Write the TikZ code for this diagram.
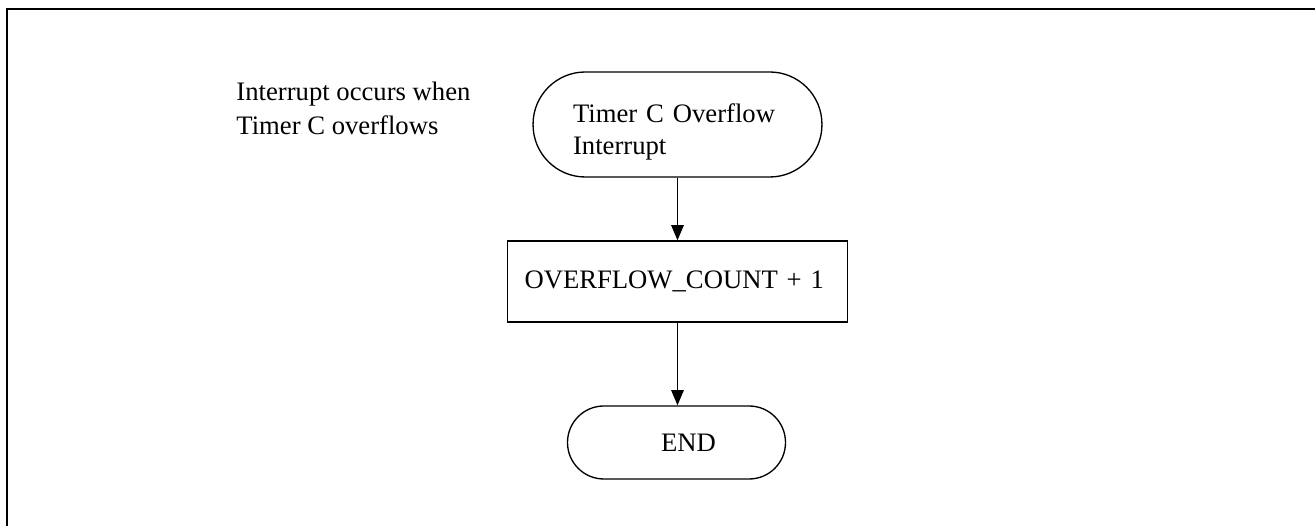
\documentclass[tikz,border=0pt]{standalone}
\usepackage{fontspec}
\setmainfont{Liberation Serif}
\usetikzlibrary{arrows.meta}
\begin{document}
\begin{tikzpicture}[x=0.45pt,y=-0.45pt,
  every node/.style={font=\fontsize{12}{14}\selectfont, inner sep=0pt},
  terminal/.style={draw, line width=0.6pt, rectangle},
  process/.style={draw, line width=0.6pt, rectangle},
  flow/.style={line width=0.6pt, -{Triangle[length=6.8pt,width=5.6pt]}},
  frame/.style={line width=1.1pt},
  note/.style={font=\fontsize{12}{15.3}\selectfont, align=left}
]
\useasboundingbox (0,0) rectangle (1315,526);
% page frame (top and left edges)
\draw[frame] (7,526) -- (7,9) -- (1315,9);

% annotation (base anchor sits on the last line)
\node[note, anchor=base west] (note) at (236,135) {Interrupt occurs when\\Timer C overflows};

% flowchart
\node[terminal, rounded corners=23.5pt, minimum width=130pt, minimum height=47.25pt,
      text width=94pt, align=left] (start) at (677.5,124.5)
      {\rule{0pt}{15.2pt}Timer C Overflow\\Interrupt};
\node[process, minimum width=153pt, minimum height=36.45pt,
      text width=137.7pt, align=left] (count) at (677.5,281.5)
      {OVERFLOW\_COUNT + 1};
\node[terminal, rounded corners=16.4pt, minimum width=98.1pt, minimum height=32.85pt]
      (end) at (676.5,442.5) {\hspace*{10.8pt}END};

\draw[flow] (start.south) -- (start.south |- count.north);
\draw[flow] (count.south) -- (count.south |- end.north);
\end{tikzpicture}
\end{document}
